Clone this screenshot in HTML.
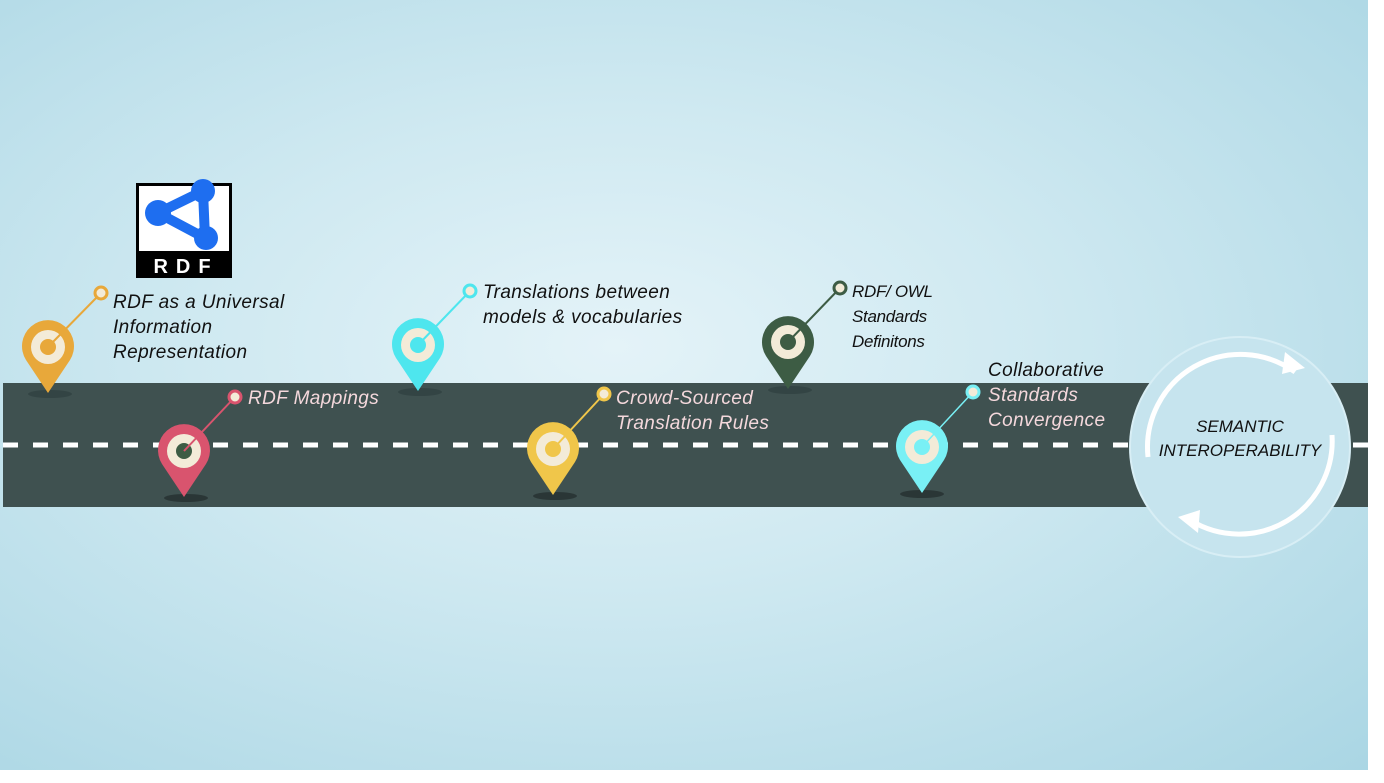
<!DOCTYPE html>
<html><head><style>
body{margin:0;width:1384px;height:783px;overflow:hidden;background:#fff;font-family:"Liberation Sans",sans-serif}
.bg{position:absolute;left:0;top:0;width:1368px;height:770px;background:radial-gradient(ellipse at 45% 45%,#e4f3f8 0%,#cfe9f1 40%,#aad6e4 100%)}
.t{position:absolute;font-style:italic;font-size:19px;line-height:25px;letter-spacing:0.4px}
</style></head><body>
<div class="bg"></div>
<svg width="1384" height="783" style="position:absolute;left:0;top:0">
<rect x="3" y="383" width="1365" height="124" fill="#3f5150"/>
<line x1="3" y1="445" x2="1368" y2="445" stroke="#fff" stroke-width="5" stroke-dasharray="15,15"/>
<circle cx="1240" cy="447" r="110" fill="#c6e4ee" stroke="#d8eef5" stroke-width="2"/>
<path d="M1148 457 A93 93 0 0 1 1295 372" fill="none" stroke="#fff" stroke-width="5"/>
<polygon points="1305,368 1285,352 1282,374" fill="#fff"/>
<path d="M1332 435 A93 93 0 0 1 1190 520" fill="none" stroke="#fff" stroke-width="5"/>
<polygon points="1178,517 1198,533 1200,510" fill="#fff"/>
<text x="1240" y="432" font-size="17" text-anchor="middle" font-style="italic" fill="#111">SEMANTIC</text>
<text x="1240" y="456" font-size="17" text-anchor="middle" font-style="italic" fill="#111">INTEROPERABILITY</text>
<rect x="136" y="183" width="96" height="95" fill="#000"/>
<rect x="139" y="186" width="90" height="65" fill="#fff"/>
<g stroke="#1e6ef0" stroke-width="10" fill="none" stroke-linejoin="round"><polygon points="158,213 203,191 205,238"/></g>
<circle cx="158" cy="213" r="13" fill="#1e6ef0"/><circle cx="203" cy="191" r="12" fill="#1e6ef0"/><circle cx="206" cy="238" r="12" fill="#1e6ef0"/>
<text x="186" y="273" font-size="20" font-weight="bold" fill="#fff" text-anchor="middle" letter-spacing="8">RDF</text>
<g><ellipse cx="50" cy="394" rx="22" ry="4" fill="#2f3e3e" opacity=".7"/><path d="M48 393 L26 360 A26 26 0 1 1 70 360 Z" fill="#e8a83a"/><circle cx="48" cy="347" r="17" fill="#f3ebd8"/><circle cx="48" cy="347" r="8" fill="#e8a83a"/><line x1="48" y1="347" x2="101" y2="293" stroke="#e8a83a" stroke-width="2"/><circle cx="101" cy="293" r="6" fill="#f3ebd8" stroke="#e8a83a" stroke-width="3"/></g>
<g><ellipse cx="186" cy="498" rx="22" ry="4" fill="#2a3636"/><path d="M184 497 L162 464 A26 26 0 1 1 206 464 Z" fill="#d9546e"/><circle cx="184" cy="451" r="17" fill="#f3ebd8"/><circle cx="184" cy="451" r="8" fill="#3d5c44"/><line x1="184" y1="451" x2="235" y2="397" stroke="#d9546e" stroke-width="2"/><circle cx="235" cy="397" r="6" fill="#f3ebd8" stroke="#d9546e" stroke-width="3"/></g>
<g><ellipse cx="420" cy="392" rx="22" ry="4" fill="#2f3e3e" opacity=".7"/><path d="M418 391 L396 358 A26 26 0 1 1 440 358 Z" fill="#4ee6ee"/><circle cx="418" cy="345" r="17" fill="#f3ebd8"/><circle cx="418" cy="345" r="8" fill="#4ee6ee"/><line x1="418" y1="345" x2="470" y2="291" stroke="#4ee6ee" stroke-width="2"/><circle cx="470" cy="291" r="6" fill="#f3ebd8" stroke="#4ee6ee" stroke-width="3"/></g>
<g><ellipse cx="555" cy="496" rx="22" ry="4" fill="#2a3636"/><path d="M553 495 L531 462 A26 26 0 1 1 575 462 Z" fill="#f0c64a"/><circle cx="553" cy="449" r="17" fill="#f3ebd8"/><circle cx="553" cy="449" r="8" fill="#f0c64a"/><line x1="553" y1="449" x2="604" y2="394" stroke="#f0c64a" stroke-width="2"/><circle cx="604" cy="394" r="6" fill="#f3ebd8" stroke="#f0c64a" stroke-width="3"/></g>
<g><ellipse cx="790" cy="390" rx="22" ry="4" fill="#2f3e3e" opacity=".7"/><path d="M788 389 L766 356 A26 26 0 1 1 810 356 Z" fill="#3d5c44"/><circle cx="788" cy="342" r="17" fill="#f3ebd8"/><circle cx="788" cy="342" r="8" fill="#3d5c44"/><line x1="788" y1="342" x2="840" y2="288" stroke="#3d5c44" stroke-width="2"/><circle cx="840" cy="288" r="6" fill="#f3ebd8" stroke="#3d5c44" stroke-width="3"/></g>
<g><ellipse cx="922" cy="494" rx="22" ry="4" fill="#2a3636"/><path d="M922 493 L900 460 A26 26 0 1 1 944 460 Z" fill="#79f0f5"/><circle cx="922" cy="447" r="17" fill="#f3ebd8"/><circle cx="922" cy="447" r="8" fill="#79f0f5"/><line x1="922" y1="447" x2="973" y2="392" stroke="#79f0f5" stroke-width="1.5"/><circle cx="973" cy="392" r="6" fill="#f3ebd8" stroke="#79f0f5" stroke-width="3"/></g>
</svg>
<div class="t" style="left:113px;top:290px;color:#111">RDF as a Universal<br>Information<br>Representation</div>
<div class="t" style="left:248px;top:386px;color:#f4d8dc">RDF Mappings</div>
<div class="t" style="left:483px;top:280px;color:#111">Translations between<br>models &amp; vocabularies</div>
<div class="t" style="left:616px;top:386px;color:#f4d8dc">Crowd-Sourced<br>Translation Rules</div>
<div class="t" style="left:852px;top:279px;color:#111;font-size:17px;line-height:25px;letter-spacing:-0.3px">RDF/ OWL<br>Standards<br>Definitons</div>
<div class="t" style="left:988px;top:358px;color:#111">Collaborative</div>
<div class="t" style="left:988px;top:383px;color:#f4d8dc">Standards<br>Convergence</div>
</body></html>
